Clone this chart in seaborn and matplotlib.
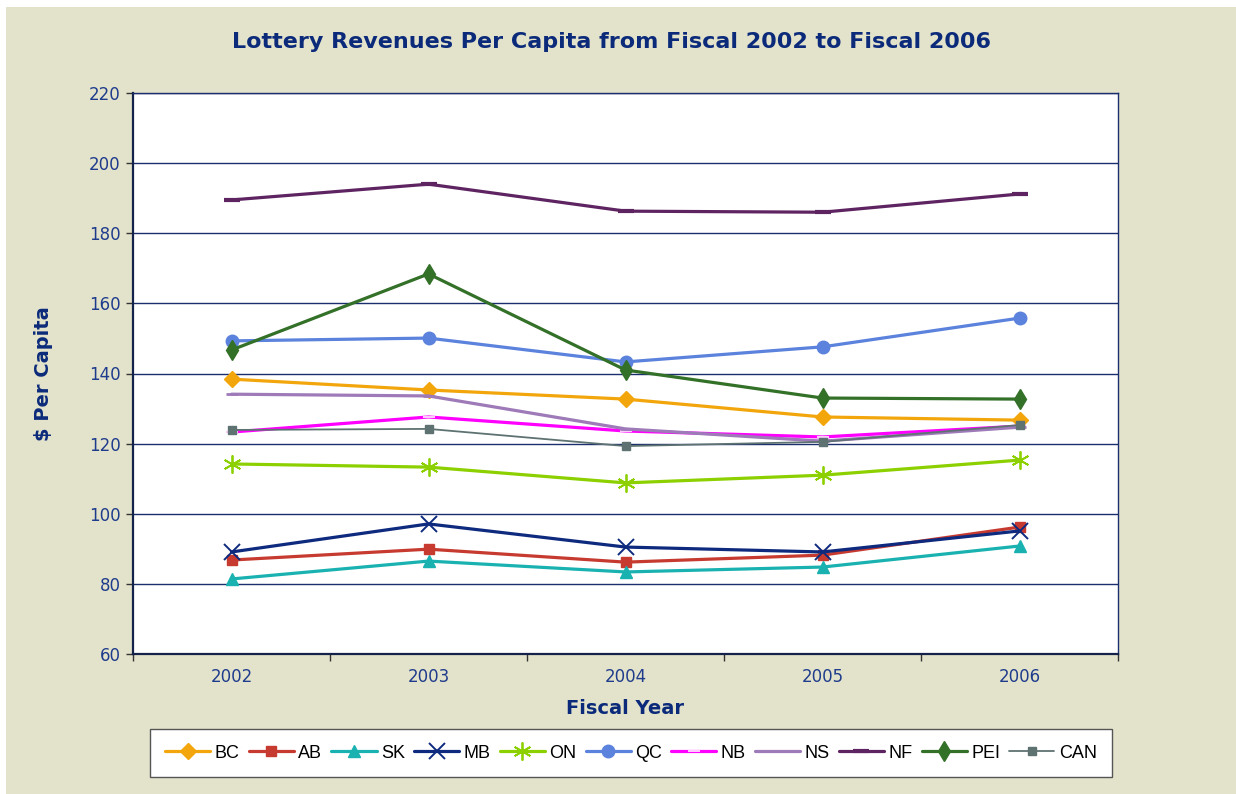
import matplotlib
matplotlib.use("Agg")
import matplotlib.pyplot as plt
import seaborn as sns
import pandas as pd
import numpy as np
from matplotlib.ticker import FixedLocator

years = ["2002", "2003", "2004", "2005", "2006"]
BC = [138.4, 135.3, 132.7, 127.6, 126.7]
AB = [86.8, 89.9, 86.2, 88.2, 96.2]
SK = [81.4, 86.5, 83.4, 84.8, 90.8]
MB = [89.1, 97.1, 90.5, 89.1, 95.1]
ON = [114.2, 113.3, 108.8, 111.0, 115.3]
QC = [149.3, 150.1, 143.3, 147.6, 155.8]
NB = [123.3, 127.6, 123.6, 121.9, 125.0]
NS = [134.1, 133.6, 124.2, 120.7, 124.7]
NF = [189.5, 194.0, 186.3, 186.0, 191.2]
PEI = [146.7, 168.4, 141.0, 133.0, 132.7]
CAN = [123.9, 124.2, 119.3, 120.5, 125.3]

series = ["BC", "AB", "SK", "MB", "ON", "QC", "NB", "NS", "NF", "PEI", "CAN"]
values = [BC, AB, SK, MB, ON, QC, NB, NS, NF, PEI, CAN]

styles = {
    "BC": dict(color="#F2A60C", marker="D", ms=8, lw=2.3, mfc="#F2A60C", mec="#F2A60C", mew=1),
    "AB": dict(color="#C63A30", marker="s", ms=7, lw=2.3, mfc="#C63A30", mec="#C63A30", mew=1),
    "SK": dict(color="#19B2B0", marker="^", ms=8, lw=2.3, mfc="#19B2B0", mec="#19B2B0", mew=1),
    "MB": dict(color="#0E2A7E", marker="x", ms=11, lw=2.3, mfc="none", mec="#0E2A7E", mew=1.4),
    "ON": dict(color="#8CD000", marker=(6, 2, 0), ms=13, lw=2.3, mfc="none", mec="#8CD000", mew=1.3),
    "QC": dict(color="#5B82DC", marker="o", ms=9, lw=2.3, mfc="#5B82DC", mec="#5B82DC", mew=1),
    "NB": dict(color="#FF00FF", marker="_", ms=8, lw=2.3, mfc="#FFC8FF", mec="#FFC8FF", mew=1.5),
    "NS": dict(color="#9E7AB8", marker="_", ms=8, lw=2.3, mfc="#9E7AB8", mec="#9E7AB8", mew=2),
    "NF": dict(color="#5E2462", marker="_", ms=11, lw=2.3, mfc="#5E2462", mec="#5E2462", mew=3),
    "PEI": dict(color="#337028", marker="d", ms=10, lw=2.3, mfc="#337028", mec="#337028", mew=1),
    "CAN": dict(color="#5E7272", marker="s", ms=6, lw=1.3, mfc="#5E7272", mec="#5E7272", mew=1),
}

rows = []
for name, vals in zip(series, values):
    for i, v in enumerate(vals):
        rows.append({"series": name, "x": i, "year": years[i], "value": v})
df = pd.DataFrame(rows)

sns.set_style("white")
plt.rcParams["font.family"] = ["DejaVu Sans"]

beige = "#E3E3CB"
navy = "#0B2A7A"
tick_col = "#1F3C8C"

fig = plt.figure(figsize=(12.36, 7.94), dpi=100, facecolor="white")
bg = fig.add_axes([6 / 1236, 0, 1 - 6 / 1236, 1 - 7 / 794])
bg.set_facecolor(beige)
bg.set_xticks([]); bg.set_yticks([])
for s in bg.spines.values():
    s.set_visible(False)
bg.set_zorder(-10)

ax = fig.add_axes([133 / 1236, 1 - 654 / 794, 985 / 1236, 561 / 794])
ax.set_facecolor("white")

for name in series:
    st = styles[name]
    sub = df[df["series"] == name]
    sns.lineplot(data=sub, x="x", y="value", ax=ax, color=st["color"], lw=st["lw"],
                 marker=st["marker"], markersize=st["ms"], markerfacecolor=st["mfc"],
                 markeredgecolor=st["mec"], markeredgewidth=st["mew"], label=name,
                 legend=False, zorder=3)

ax.set_xlim(-0.5, 4.5)
ax.set_ylim(60, 220)
ax.set_yticks(np.arange(60, 221, 20))
ax.set_xticks(range(5))
ax.set_xticklabels(years)
ax.xaxis.set_minor_locator(FixedLocator(np.arange(-0.5, 4.6, 1)))
ax.grid(axis="y", color="#1B2E6E", lw=1.0, zorder=0)
ax.grid(axis="x", visible=False)
ax.tick_params(axis="x", which="both", bottom=True)
ax.tick_params(axis="x", which="major", length=0, pad=10, labelsize=12, labelcolor=tick_col)
ax.tick_params(axis="x", which="minor", length=5, width=1, color="#333333", direction="out")
ax.tick_params(axis="y", which="major", left=True, length=5, width=1, color="#333333",
               direction="out", labelsize=12, labelcolor=tick_col, pad=4)
for side in ["left", "bottom"]:
    ax.spines[side].set_color("#15224A")
    ax.spines[side].set_linewidth(1.6)
for side in ["top", "right"]:
    ax.spines[side].set_color("#1B2E6E")
    ax.spines[side].set_linewidth(1.0)

ax.set_xlabel("Fiscal Year", fontsize=14, fontweight="bold", color=navy, labelpad=9.5)
ax.set_ylabel("$ Per Capita", fontsize=14, fontweight="bold", color=navy, labelpad=26)

fig.text(611 / 1236, 1 - 42 / 794, "Lottery Revenues Per Capita from Fiscal 2002 to Fiscal 2006",
         ha="center", va="center", fontsize=16, fontweight="bold", color=navy)

handles, labels = ax.get_legend_handles_labels()
leg = fig.legend(handles, labels, loc="center", bbox_to_anchor=(631 / 1236, 1 - 753 / 794),
                 ncol=11, frameon=True, fancybox=False, handlelength=2.5,
                 handletextpad=0.25, columnspacing=0.5, borderpad=0.85,
                 prop={"family": ["Liberation Sans", "DejaVu Sans"], "size": 13})
for t in leg.get_texts():
    t.set_color("black")
leg.get_frame().set_edgecolor("#555555")
leg.get_frame().set_linewidth(1.0)
leg.get_frame().set_facecolor("white")
leg.get_frame().set_alpha(1)

fig.savefig("out.png", dpi=100, facecolor="white")
